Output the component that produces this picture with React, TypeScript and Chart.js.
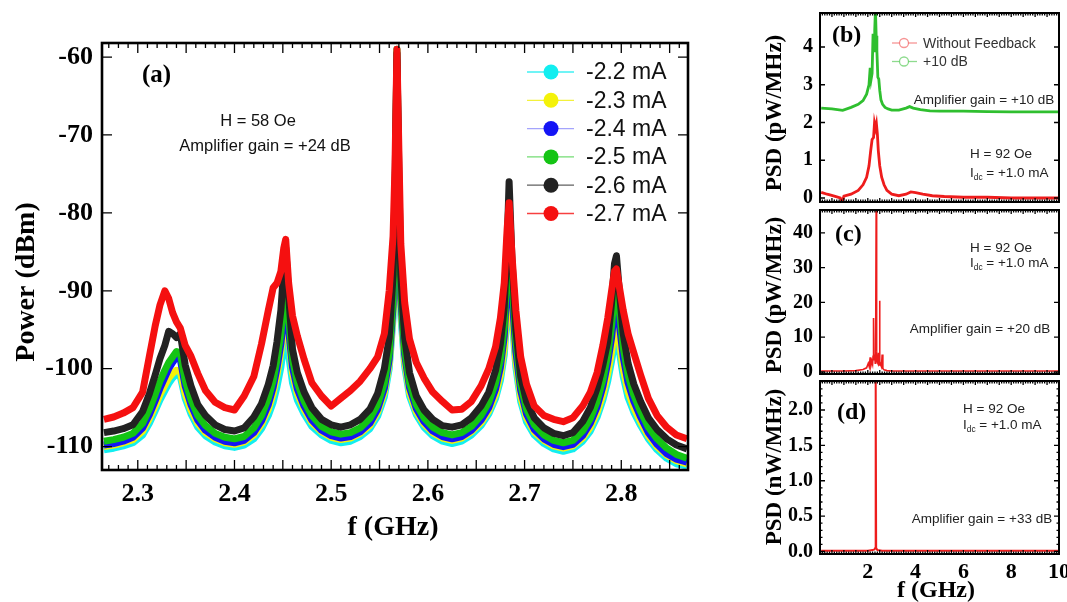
import React, { useEffect, useRef } from "react";
import { Chart, registerables } from "chart.js";
Chart.register(...registerables);

const W = 1067;
const H = 602;
const SERIF = "'Liberation Serif', 'Times New Roman', serif";
const SANS = "'Liberation Sans', Arial, sans-serif";

// ---------------- Panel (a) ----------------
const FREQ_A = [
  2.265, 2.275, 2.285, 2.295, 2.305, 2.312, 2.318, 2.323, 2.328, 2.332,
  2.336, 2.34, 2.344, 2.349, 2.355, 2.362, 2.37, 2.38, 2.39, 2.4,
  2.41, 2.42, 2.428, 2.435, 2.44, 2.444, 2.448, 2.451, 2.453, 2.456,
  2.46, 2.465, 2.472, 2.48, 2.49, 2.5, 2.51, 2.52, 2.53, 2.54,
  2.548, 2.555, 2.56, 2.564, 2.566, 2.568, 2.57, 2.572, 2.576, 2.581,
  2.588, 2.596, 2.605, 2.615, 2.625, 2.635, 2.645, 2.655, 2.663, 2.67,
  2.675, 2.679, 2.682, 2.684, 2.687, 2.691, 2.696, 2.702, 2.71, 2.72,
  2.73, 2.74, 2.75, 2.76, 2.768, 2.775, 2.781, 2.786, 2.79, 2.793,
  2.795, 2.798, 2.802, 2.807, 2.813, 2.82, 2.828, 2.837, 2.847, 2.857,
  2.868,
];

const P_27 = [
  -106.5, -106.2, -105.7, -105.0, -103.0, -98.4, -94.5, -91.8, -90.0, -91.0,
  -92.8, -94.0, -94.8, -97.0, -98.4, -100.6, -102.8, -104.3, -105.0, -105.3,
  -103.5, -101.0, -96.8, -92.5, -89.6, -89.0, -87.5, -84.5, -83.4, -89.0,
  -93.2, -95.8, -98.8, -101.8, -103.5, -104.8, -103.8, -102.8, -101.6, -100.0,
  -98.5, -95.5, -90.0, -83.0, -74.0, -59.0, -72.0, -84.0, -91.5, -96.2,
  -99.2, -101.2, -103.0, -104.2, -105.3, -105.2, -104.2, -102.2, -100.0, -97.2,
  -93.5, -89.0, -82.0, -78.7, -85.5, -92.5, -98.5, -102.0, -104.8, -106.0,
  -106.5, -106.8, -106.3, -104.8, -103.0, -100.5, -97.0, -93.5, -90.0, -87.5,
  -87.2, -89.5, -92.5, -95.5, -98.0, -100.8, -103.8, -106.0, -107.5, -108.5,
  -109.0,
];
const P_26 = [
  -108.2, -108.0, -107.7, -107.2, -105.5, -103.2, -100.8, -98.7, -97.0, -95.2,
  -95.5, -96.0, -95.5, -99.5, -102.2, -104.6, -106.0, -107.2, -107.8, -108.0,
  -107.6, -106.2, -104.5, -102.0, -99.6, -96.5, -92.5, -87.0, -84.5, -90.5,
  -97.5, -100.5, -103.0, -105.0, -106.5, -107.2, -107.5, -107.2, -106.5, -105.2,
  -103.2, -100.0, -96.0, -88.0, -77.0, -59.5, -75.0, -88.0, -96.0, -100.5,
  -103.5, -105.3, -106.5, -107.3, -107.5, -107.2, -106.3, -104.8, -103.0, -100.2,
  -96.8, -92.0, -84.0, -76.0, -86.0, -95.0, -101.0, -104.2, -106.3, -107.6,
  -108.3, -108.6, -108.2, -106.8, -105.0, -102.5, -99.5, -96.5, -91.5, -86.5,
  -85.5, -90.0, -95.5, -99.3, -102.0, -104.2, -106.3, -107.8, -109.0, -109.8,
  -110.3,
];
const P_25 = [
  -109.3, -109.1, -108.8, -108.3, -107.0, -105.2, -103.3, -101.6, -100.2, -99.2,
  -98.5, -97.8, -98.0, -101.5, -104.0, -106.0, -107.3, -108.3, -108.8, -109.0,
  -108.7, -107.6, -106.0, -103.8, -101.5, -98.8, -95.5, -91.5, -89.8, -93.5,
  -98.8, -101.8, -104.2, -106.0, -107.4, -108.1, -108.4, -108.2, -107.6, -106.4,
  -104.6, -101.8, -98.0, -91.0, -80.0, -59.0, -78.0, -90.0, -97.5, -101.8,
  -104.6, -106.3, -107.5, -108.2, -108.5, -108.2, -107.4, -106.0, -104.3, -101.8,
  -98.8, -94.5, -87.0, -81.0, -88.5, -96.5, -102.0, -105.2, -107.2, -108.5,
  -109.2, -109.5, -109.2, -108.0, -106.4, -104.2, -101.4, -98.2, -94.5, -90.0,
  -88.5, -92.5, -97.3, -100.8, -103.4, -105.5, -107.5, -109.0, -110.2, -111.0,
  -111.5,
];
const P_24 = [
  -109.8, -109.6, -109.3, -108.8, -107.6, -105.9, -104.1, -102.5, -101.1, -100.0,
  -99.2, -98.5, -98.8, -102.2, -104.6, -106.6, -107.9, -108.8, -109.3, -109.5,
  -109.2, -108.2, -106.7, -104.6, -102.4, -99.9, -96.8, -93.2, -91.5, -95.0,
  -99.8, -102.6, -104.8, -106.6, -107.9, -108.6, -108.9, -108.7, -108.1, -107.0,
  -105.2, -102.5, -98.8, -92.0, -81.5, -60.5, -79.5, -91.0, -98.2, -102.4,
  -105.1, -106.8, -108.0, -108.7, -109.0, -108.7, -107.9, -106.6, -105.0, -102.6,
  -99.8, -95.8, -89.0, -84.0, -90.5, -97.8, -102.8, -105.8, -107.8, -109.0,
  -109.7, -110.0, -109.7, -108.6, -107.0, -104.9, -102.3, -99.2, -96.0, -92.2,
  -91.0, -94.3, -98.5, -101.8, -104.2, -106.2, -108.2, -109.7, -110.9, -111.6,
  -112.0,
];
const P_23 = [
  -110.0, -109.8, -109.5, -109.1, -108.0, -106.4, -104.8, -103.3, -102.1, -101.2,
  -100.6, -100.2, -100.4, -103.2, -105.3, -107.0, -108.2, -109.0, -109.5, -109.7,
  -109.4, -108.5, -107.1, -105.2, -103.2, -100.8, -97.8, -94.2, -92.7, -96.0,
  -100.6, -103.2, -105.2, -106.9, -108.1, -108.8, -109.1, -108.9, -108.3, -107.3,
  -105.6, -103.0, -99.4, -92.8, -82.5, -61.0, -80.5, -92.0, -99.0, -103.0,
  -105.5, -107.1, -108.2, -108.9, -109.2, -108.9, -108.1, -106.9, -105.4, -103.3,
  -100.8, -97.3, -91.5, -87.0, -92.5, -99.0, -103.6, -106.3, -108.1, -109.2,
  -109.9, -110.2, -109.9, -108.9, -107.5, -105.6, -103.3, -100.6, -97.8, -95.0,
  -94.5, -96.5, -100.0, -102.9, -105.0, -106.8, -108.6, -110.0, -111.1, -111.8,
  -112.2,
];
const P_22 = [
  -110.4, -110.2, -109.9, -109.5, -108.5, -107.0, -105.4, -104.0, -102.8, -101.9,
  -101.2, -100.7, -101.0, -103.8, -105.8, -107.5, -108.6, -109.4, -109.9, -110.1,
  -109.8, -109.0, -107.7, -106.0, -104.3, -102.3, -99.8, -97.0, -95.8, -98.2,
  -101.8, -104.0, -105.8, -107.4, -108.5, -109.2, -109.5, -109.3, -108.7, -107.7,
  -106.1, -103.6, -100.0, -93.5, -83.5, -62.0, -81.5, -93.0, -99.7, -103.5,
  -105.9, -107.5, -108.6, -109.3, -109.6, -109.3, -108.5, -107.3, -105.8, -103.8,
  -101.5, -98.2, -92.5, -88.0, -93.5, -99.8, -104.2, -106.8, -108.5, -109.6,
  -110.3, -110.6, -110.3, -109.3, -108.0, -106.2, -104.0, -101.6, -99.0, -96.8,
  -96.2, -97.8, -101.0, -103.7, -105.6, -107.3, -109.0, -110.4, -111.5, -112.2,
  -112.5,
];

const LABELS_A = ["-2.2 mA", "-2.3 mA", "-2.4 mA", "-2.5 mA", "-2.6 mA", "-2.7 mA"];
const SERIES_A = [P_22, P_23, P_24, P_25, P_26, P_27];
const COLORS_A = ["#12eef0", "#f4f20a", "#1414f5", "#14c414", "#222222", "#f51010"];
const LEGEND_LINE_A = [
  "rgba(18,238,240,0.8)",
  "rgba(240,238,10,0.8)",
  "rgba(90,90,250,0.55)",
  "rgba(20,196,20,0.6)",
  "rgba(30,30,30,0.7)",
  "rgba(245,16,16,0.8)",
];
const X_TICKS_A = [2.3, 2.4, 2.5, 2.6, 2.7, 2.8];
const X_TICK_LABELS_A = ["2.3", "2.4", "2.5", "2.6", "2.7", "2.8"];
const Y_TICKS_A = [-110, -100, -90, -80, -70, -60];
const Y_TICK_LABELS_A = ["-110", "-100", "-90", "-80", "-70", "-60"];

// ---------------- Panel (b) ----------------
const FREQ_B_RED = [
  0.05, 0.3, 0.6, 0.85, 0.93, 1.0, 1.3, 1.6, 1.8, 1.95, 2.05, 2.12, 2.18, 2.24,
  2.28, 2.32, 2.36, 2.4, 2.44, 2.5, 2.58, 2.68, 2.8, 3.0, 3.3, 3.6, 3.8, 4.0,
  4.3, 4.7, 5.2, 6, 7, 8, 9, 10,
];
const PSD_B_RED = [
  0.15, 0.1, 0.05, 0.0, -0.1, 0.05, 0.1, 0.2, 0.35, 0.55, 0.85, 1.25, 1.55, 1.6,
  1.98, 1.85, 1.97, 1.7, 1.25, 0.85, 0.55, 0.35, 0.2, 0.1, 0.06, 0.1, 0.16, 0.14,
  0.1, 0.06, 0.04, 0.02, 0.02, 0.0, 0.0, 0.0,
];
const FREQ_B_GREEN = [
  0.05, 0.5, 0.95, 1.3, 1.6, 1.8, 1.95, 2.05, 2.1, 2.14, 2.18, 2.22, 2.26, 2.29,
  2.32, 2.35, 2.38, 2.42, 2.46, 2.5, 2.55, 2.62, 2.72, 2.85, 3.0, 3.3, 3.6, 3.75,
  3.9, 4.2, 4.6, 5, 6, 7, 8, 9, 10,
];
const PSD_B_GREEN = [
  2.38, 2.36, 2.32, 2.4, 2.48, 2.58, 2.75, 3.0, 3.45, 3.15, 3.3, 4.35, 3.9, 4.45,
  5.0, 4.3, 3.9, 3.2, 3.15, 2.85, 2.6, 2.48, 2.4, 2.36, 2.33, 2.33, 2.38, 2.42,
  2.38, 2.34, 2.31, 2.3, 2.3, 2.29, 2.28, 2.28, 2.28,
];
const LABELS_B = ["Without Feedback", "+10 dB"];
const Y_TICKS_B = [0, 1, 2, 3, 4];
const Y_TICK_LABELS_B = ["0", "1", "2", "3", "4"];

// ---------------- Panel (c) ----------------
const FREQ_C = [
  0.05, 1, 1.5, 1.8, 1.95, 2.02, 2.06, 2.1, 2.13, 2.17, 2.2, 2.22, 2.24, 2.26,
  2.29, 2.31, 2.33, 2.35, 2.37, 2.39, 2.42, 2.45, 2.47, 2.49, 2.51, 2.54, 2.57,
  2.6, 2.63, 2.68, 2.8, 3, 4, 6, 8, 10,
];
const PSD_C = [
  0.3, 0.3, 0.4, 0.7, 1.2, 2.5, 1.5, 4.2, 1.8, 3.0, 2.2, 4.5, 15.5, 3.5, 5.0,
  2.5, 9.0, 47, 6.0, 3.0, 2.5, 5.5, 2.0, 20.5, 3.0, 2.0, 1.5, 5.0, 1.0, 0.6,
  0.4, 0.3, 0.3, 0.3, 0.3, 0.3,
];
const Y_TICKS_C = [0, 10, 20, 30, 40];
const Y_TICK_LABELS_C = ["0", "10", "20", "30", "40"];

// ---------------- Panel (d) ----------------
const FREQ_D = [0.05, 1, 2, 2.2, 2.28, 2.31, 2.33, 2.35, 2.4, 2.6, 3, 5, 7, 10];
const PSD_D = [0.01, 0.01, 0.01, 0.02, 0.03, 0.05, 2.5, 0.05, 0.02, 0.01, 0.01, 0.01, 0.01, 0.01];
const Y_TICKS_D = [0, 0.5, 1, 1.5, 2];
const Y_TICK_LABELS_D = ["0.0", "0.5", "1.0", "1.5", "2.0"];
const X_TICKS_D = [2, 4, 6, 8, 10];
const X_TICK_LABELS_D = ["2", "4", "6", "8", "10"];

// ---------------- helpers ----------------
type TickSet = { step: number; len: number };
type Decor = {
  frameWidth: number;
  xTicks: TickSet[];
  yTicks: TickSet[];
  draw?: (ctx: CanvasRenderingContext2D) => void;
};

function makeDecor(cfg: Decor) {
  return {
    id: "decor",
    afterDatasetsDraw(chart: any) {
      const ctx: CanvasRenderingContext2D = chart.ctx;
      const a = chart.chartArea;
      const xs = chart.scales.x;
      const ys = chart.scales.y;
      ctx.save();
      ctx.strokeStyle = "#000";
      ctx.lineWidth = 1.3;
      ctx.beginPath();
      for (const t of cfg.xTicks) {
        const k0 = Math.ceil(xs.min / t.step - 1e-6);
        const k1 = Math.floor(xs.max / t.step + 1e-6);
        for (let k = k0; k <= k1; k++) {
          const px = xs.getPixelForValue(k * t.step);
          ctx.moveTo(px, a.bottom);
          ctx.lineTo(px, a.bottom - t.len);
          ctx.moveTo(px, a.top);
          ctx.lineTo(px, a.top + t.len);
        }
      }
      for (const t of cfg.yTicks) {
        const k0 = Math.ceil(ys.min / t.step - 1e-6);
        const k1 = Math.floor(ys.max / t.step + 1e-6);
        for (let k = k0; k <= k1; k++) {
          const py = ys.getPixelForValue(k * t.step);
          ctx.moveTo(a.left, py);
          ctx.lineTo(a.left + t.len, py);
          ctx.moveTo(a.right, py);
          ctx.lineTo(a.right - t.len, py);
        }
      }
      ctx.stroke();
      ctx.lineWidth = cfg.frameWidth;
      ctx.strokeRect(a.left, a.top, a.right - a.left, a.bottom - a.top);
      ctx.restore();
      if (cfg.draw) {
        ctx.save();
        cfg.draw(ctx);
        ctx.restore();
      }
    },
  };
}

function text(
  ctx: CanvasRenderingContext2D,
  s: string,
  x: number,
  y: number,
  font: string,
  align: CanvasTextAlign = "center",
  color = "#000",
  rot = 0
) {
  ctx.save();
  ctx.font = font;
  ctx.fillStyle = color;
  ctx.textAlign = align;
  ctx.textBaseline = "middle";
  ctx.translate(x, y);
  if (rot) ctx.rotate(rot);
  ctx.fillText(s, 0, 0);
  ctx.restore();
}

function idcText(ctx: CanvasRenderingContext2D, x: number, y: number, size: number) {
  ctx.save();
  ctx.fillStyle = "#222";
  ctx.textAlign = "left";
  ctx.textBaseline = "middle";
  ctx.font = `${size}px ${SANS}`;
  ctx.fillText("I", x, y);
  let cx = x + ctx.measureText("I").width;
  ctx.font = `${size * 0.62}px ${SANS}`;
  ctx.fillText("dc", cx, y + size * 0.32);
  cx += ctx.measureText("dc").width;
  ctx.font = `${size}px ${SANS}`;
  ctx.fillText(" = +1.0 mA", cx, y);
  ctx.restore();
}

function tickFont(size: number) {
  return { family: SERIF, size, weight: "bold" as const };
}

function yScale(min: number, max: number, ticks: number[], labels: string[], size: number, width: number, pad: number) {
  return {
    type: "linear" as const,
    min,
    max,
    grid: { display: false, drawTicks: false },
    border: { display: false },
    ticks: {
      autoSkip: false,
      padding: pad,
      color: "#000",
      font: tickFont(size),
      callback: (_v: any, i: number) => labels[i],
    },
    afterBuildTicks: (s: any) => {
      s.ticks = ticks.map((v) => ({ value: v }));
    },
    afterFit: (s: any) => {
      s.width = width;
      s.paddingTop = 0;
      s.paddingBottom = 0;
    },
  };
}

function xScaleLabeled(min: number, max: number, ticks: number[], labels: string[], size: number, height: number, pad: number) {
  return {
    type: "linear" as const,
    min,
    max,
    grid: { display: false, drawTicks: false },
    border: { display: false },
    ticks: {
      autoSkip: false,
      maxRotation: 0,
      padding: pad,
      color: "#000",
      font: tickFont(size),
      callback: (_v: any, i: number) => labels[i],
    },
    afterBuildTicks: (s: any) => {
      s.ticks = ticks.map((v) => ({ value: v }));
    },
    afterFit: (s: any) => {
      s.height = height;
      s.paddingLeft = 0;
      s.paddingRight = 0;
    },
  };
}

function xScaleHidden(min: number, max: number) {
  return {
    type: "linear" as const,
    min,
    max,
    display: false,
  };
}

const baseOpts = {
  animation: false as const,
  responsive: false,
  devicePixelRatio: 1,
  events: [] as any[],
};

// ---------------- configs ----------------
function configA(): any {
  const order = [5, 4, 3, 2, 1, 0]; // red drawn on top
  const datasets = order.map((i) => ({
    label: LABELS_A[i],
    data: FREQ_A.map((x, k) => ({ x, y: SERIES_A[i][k] })),
    borderColor: COLORS_A[i],
    backgroundColor: COLORS_A[i],
    borderWidth: 7,
    pointRadius: 0,
    fill: false,
    borderJoinStyle: "round",
  }));
  return {
    type: "line",
    data: { datasets },
    options: {
      ...baseOpts,
      layout: { padding: { left: 0, top: 43, right: W - 688, bottom: 0 } },
      scales: {
        x: xScaleLabeled(2.263, 2.869, X_TICKS_A, X_TICK_LABELS_A, 26, H - 470, 9),
        y: yScale(-113, -58.2, Y_TICKS_A, Y_TICK_LABELS_A, 26, 102, 9),
      },
      plugins: { legend: { display: false }, tooltip: { enabled: false } },
    },
    plugins: [
      makeDecor({
        frameWidth: 2.6,
        xTicks: [
          { step: 0.01, len: 5 },
          { step: 0.05, len: 10 },
        ],
        yTicks: [{ step: 10, len: 10 }],
        draw: (ctx) => {
          text(ctx, "Power (dBm)", 27, 282, `bold 28px ${SERIF}`, "center", "#000", -Math.PI / 2);
          text(ctx, "f (GHz)", 393, 528, `bold 28px ${SERIF}`);
          text(ctx, "(a)", 142, 76, `bold 25px ${SERIF}`, "left");
          text(ctx, "H = 58 Oe", 258, 121, `16.5px ${SANS}`, "center", "#111");
          text(ctx, "Amplifier gain = +24 dB", 265, 146, `16.5px ${SANS}`, "center", "#111");
          for (let i = 0; i < LABELS_A.length; i++) {
            const y = 72 + i * 28.3;
            ctx.strokeStyle = LEGEND_LINE_A[i];
            ctx.lineWidth = 1.3;
            ctx.beginPath();
            ctx.moveTo(527, y);
            ctx.lineTo(574, y);
            ctx.stroke();
            ctx.fillStyle = COLORS_A[i];
            ctx.beginPath();
            ctx.arc(551, y, 7.5, 0, Math.PI * 2);
            ctx.fill();
            text(ctx, LABELS_A[i], 586, y + 1, `23px ${SANS}`, "left", "#111");
          }
        },
      }),
    ],
  };
}

function configB(): any {
  return {
    type: "line",
    data: {
      datasets: [
        {
          label: LABELS_B[0],
          data: FREQ_B_RED.map((x, k) => ({ x, y: PSD_B_RED[k] })),
          borderColor: "#ee1c1c",
          borderWidth: 2.8,
          pointRadius: 0,
          fill: false,
        },
        {
          label: LABELS_B[1],
          data: FREQ_B_GREEN.map((x, k) => ({ x, y: PSD_B_GREEN[k] })),
          borderColor: "#2fbf2f",
          borderWidth: 2.8,
          pointRadius: 0,
          fill: false,
        },
      ],
    },
    options: {
      ...baseOpts,
      layout: { padding: { left: 740, top: 13, right: W - 1059, bottom: H - 202 } },
      scales: {
        x: xScaleHidden(0, 10),
        y: yScale(-0.106, 4.9, Y_TICKS_B, Y_TICK_LABELS_B, 20, 80, 7),
      },
      plugins: { legend: { display: false }, tooltip: { enabled: false } },
    },
    plugins: [
      makeDecor({
        frameWidth: 2,
        xTicks: [
          { step: 0.1, len: 2.5 },
          { step: 0.5, len: 4 },
        ],
        yTicks: [{ step: 1, len: 5 }],
        draw: (ctx) => {
          text(ctx, "PSD (pW/MHz)", 775, 113, `bold 23px ${SERIF}`, "center", "#000", -Math.PI / 2);
          text(ctx, "(b)", 832, 36, `bold 24px ${SERIF}`, "left");
          const cols = ["rgba(238,60,60,0.55)", "rgba(50,190,50,0.55)"];
          for (let i = 0; i < 2; i++) {
            const y = 43 + i * 18.5;
            ctx.strokeStyle = cols[i];
            ctx.lineWidth = 1.3;
            ctx.beginPath();
            ctx.moveTo(892, y);
            ctx.lineTo(917, y);
            ctx.stroke();
            ctx.beginPath();
            ctx.arc(904, y, 4.5, 0, Math.PI * 2);
            ctx.fillStyle = "#fff";
            ctx.fill();
            ctx.stroke();
            text(ctx, LABELS_B[i], 923, y + 1, `14px ${SANS}`, "left", "#333");
          }
          text(ctx, "Amplifier gain = +10 dB", 984, 100, `13.5px ${SANS}`, "center", "#222");
          text(ctx, "H = 92 Oe", 970, 154, `13.5px ${SANS}`, "left", "#222");
          idcText(ctx, 970, 173, 13.5);
        },
      }),
    ],
  };
}

function configC(): any {
  return {
    type: "line",
    data: {
      datasets: [
        {
          label: "PSD",
          data: FREQ_C.map((x, k) => ({ x, y: PSD_C[k] })),
          borderColor: "#ee1c1c",
          borderWidth: 1.6,
          pointRadius: 0,
          fill: false,
        },
      ],
    },
    options: {
      ...baseOpts,
      layout: { padding: { left: 740, top: 210, right: W - 1059, bottom: H - 374 } },
      scales: {
        x: xScaleHidden(0, 10),
        y: yScale(-0.58, 46.6, Y_TICKS_C, Y_TICK_LABELS_C, 20, 80, 7),
      },
      plugins: { legend: { display: false }, tooltip: { enabled: false } },
    },
    plugins: [
      makeDecor({
        frameWidth: 2,
        xTicks: [
          { step: 0.1, len: 2.5 },
          { step: 0.5, len: 4 },
        ],
        yTicks: [{ step: 10, len: 5 }],
        draw: (ctx) => {
          text(ctx, "PSD (pW/MHz)", 775, 295, `bold 23px ${SERIF}`, "center", "#000", -Math.PI / 2);
          text(ctx, "(c)", 835, 235, `bold 24px ${SERIF}`, "left");
          text(ctx, "H = 92 Oe", 970, 248, `13.5px ${SANS}`, "left", "#222");
          idcText(ctx, 970, 263, 13.5);
          text(ctx, "Amplifier gain = +20 dB", 980, 329, `13.5px ${SANS}`, "center", "#222");
        },
      }),
    ],
  };
}

function configD(): any {
  return {
    type: "line",
    data: {
      datasets: [
        {
          label: "PSD",
          data: FREQ_D.map((x, k) => ({ x, y: PSD_D[k] })),
          borderColor: "#ee1c1c",
          borderWidth: 2,
          pointRadius: 0,
          fill: false,
        },
      ],
    },
    options: {
      ...baseOpts,
      layout: { padding: { left: 740, top: 381, right: W - 1059, bottom: 0 } },
      scales: {
        x: xScaleLabeled(0, 10, X_TICKS_D, X_TICK_LABELS_D, 22, H - 554, 5),
        y: yScale(-0.035, 2.41, Y_TICKS_D, Y_TICK_LABELS_D, 20, 80, 7),
      },
      plugins: { legend: { display: false }, tooltip: { enabled: false } },
    },
    plugins: [
      makeDecor({
        frameWidth: 2,
        xTicks: [
          { step: 0.1, len: 2.5 },
          { step: 0.5, len: 4 },
        ],
        yTicks: [
          { step: 0.1, len: 2.5 },
          { step: 0.5, len: 5 },
        ],
        draw: (ctx) => {
          text(ctx, "PSD (nW/MHz)", 775, 467, `bold 23px ${SERIF}`, "center", "#000", -Math.PI / 2);
          text(ctx, "f (GHz)", 936, 591, `bold 24px ${SERIF}`);
          text(ctx, "(d)", 837, 413, `bold 24px ${SERIF}`, "left");
          text(ctx, "H = 92 Oe", 963, 409, `13.5px ${SANS}`, "left", "#222");
          idcText(ctx, 963, 425, 13.5);
          text(ctx, "Amplifier gain = +33 dB", 982, 519, `13.5px ${SANS}`, "center", "#222");
        },
      }),
    ],
  };
}

export default function App() {
  const refA = useRef<HTMLCanvasElement>(null);
  const refB = useRef<HTMLCanvasElement>(null);
  const refC = useRef<HTMLCanvasElement>(null);
  const refD = useRef<HTMLCanvasElement>(null);

  useEffect(() => {
    const charts: Chart[] = [];
    if (refA.current) charts.push(new Chart(refA.current, configA()));
    if (refB.current) charts.push(new Chart(refB.current, configB()));
    if (refC.current) charts.push(new Chart(refC.current, configC()));
    if (refD.current) charts.push(new Chart(refD.current, configD()));
    return () => {
      charts.forEach((c) => c.destroy());
    };
  }, []);

  const cs: React.CSSProperties = { position: "absolute", left: 0, top: 0, width: W, height: H };
  return (
    <div style={{ position: "absolute", left: 0, top: 0, width: W, height: H, background: "#fff" }}>
      <canvas ref={refA} width={W} height={H} style={cs} />
      <canvas ref={refB} width={W} height={H} style={cs} />
      <canvas ref={refC} width={W} height={H} style={cs} />
      <canvas ref={refD} width={W} height={H} style={cs} />
    </div>
  );
}
